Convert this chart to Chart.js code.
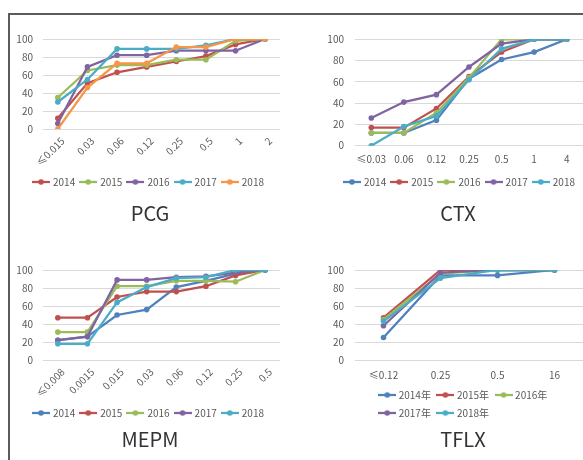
<!DOCTYPE html>
<html lang="zh">
<head>
<meta charset="UTF-8">
<title>MIC cumulative curves</title>
<script src="https://cdn.jsdelivr.net/npm/chart.js"></script>
<style>
  body { margin: 0; background: #fff; }
  #wrap { position: relative; width: 583px; height: 460px; overflow: hidden; }
  #frame { position: absolute; left: 8px; top: 13px; width: 620px; height: 480px;
           border-top: 2px solid #5b5b5b; border-left: 2px solid #5b5b5b; }
  canvas { position: absolute; }
</style>
</head>
<body>
<div id="wrap">
  <div id="frame"></div>
  <canvas id="pcg" width="291" height="230" style="left:0;top:0"></canvas>
  <canvas id="ctx" width="296" height="230" style="left:291px;top:0"></canvas>
  <canvas id="mepm" width="291" height="230" style="left:0;top:230px"></canvas>
  <canvas id="tflx" width="296" height="230" style="left:291px;top:230px"></canvas>
</div>
<script>
// PCG
const pcgCats = ['≤0.015', '0.03', '0.06', '0.12', '0.25', '0.5', '1', '2'];
const pcgNames = ['2014', '2015', '2016', '2017', '2018'];
const pcg2014 = [12, 51, 63, 69, 75, 81, 94, 100];
const pcg2015 = [35, 65, 71, 71, 77, 77, 98, 100];
const pcg2016 = [6, 69, 82, 82, 87, 87, 87, 100];
const pcg2017 = [30, 55, 89, 89, 89, 93, 100, 100];
const pcg2018 = [0, 46, 73, 73, 91, 91, 100, 100];

// CTX
const ctxCats = ['≤0.03', '0.06', '0.12', '0.25', '0.5', '1', '4'];
const ctxNames = ['2014', '2015', '2016', '2017', '2018'];
const ctx2014 = [12, 12, 24, 63, 81, 88, 100];
const ctx2015 = [17, 17, 35, 65, 88, 100, 100];
const ctx2016 = [12, 12, 31, 64, 100, 100, 100];
const ctx2017 = [26, 41, 48, 74, 96, 100, 100];
const ctx2018 = [0, 18, 28, 62, 91, 100, 100];

// MEPM
const mepmCats = ['≤0.008', '0.0015', '0.015', '0.03', '0.06', '0.12', '0.25', '0.5'];
const mepmNames = ['2014', '2015', '2016', '2017', '2018'];
const mepm2014 = [22, 26, 50, 56, 81, 88, 96, 100];
const mepm2015 = [47, 47, 70, 76, 76, 82, 94, 100];
const mepm2016 = [31, 31, 82, 82, 88, 88, 87, 100];
const mepm2017 = [22, 26, 89, 89, 92, 93, 97, 100];
const mepm2018 = [18, 18, 64, 81, 91, 92, 100, 100];

// TFLX
const tflxCats = ['≤0.12', '0.25', '0.5', '16'];
const tflxNames = ['2014年', '2015年', '2016年', '2017年', '2018年'];
const tflx2014 = [25, 94, 94, 100];
const tflx2015 = [47, 100, 100, 100];
const tflx2016 = [45, 96, 100, 100];
const tflx2017 = [38, 97, 100, 100];
const tflx2018 = [43, 91, 100, 100];

const officeA = ['#C0504D', '#9BBB59', '#8064A2', '#4BACC6', '#F79646'];
const officeB = ['#4F81BD', '#C0504D', '#9BBB59', '#8064A2', '#4BACC6'];

const FONT = '"Noto Sans CJK SC", "Noto Sans", sans-serif';
const GREY = '#595959';

// little line-with-dot swatch like Excel's legend
function legendIcon(color, w) {
  const c = document.createElement('canvas');
  c.width = w; c.height = 8;
  const g = c.getContext('2d');
  g.strokeStyle = color; g.lineWidth = 2.25;
  g.beginPath(); g.moveTo(0, 4); g.lineTo(w, 4); g.stroke();
  g.fillStyle = color;
  g.beginPath(); g.arc(w / 2, 4, 2.8, 0, Math.PI * 2); g.fill();
  return c;
}

// nudge legend/title sideways, and make wrapped legend rows start at the same x
const tweakBoxes = {
  id: 'tweakBoxes',
  afterLayout(chart, args, opts) {
    const lg = chart.legend;
    if (lg) {
      lg.left += opts.legDx; lg.right += opts.legDx;
      if (opts.alignRows && lg.lineWidths) {
        const m = Math.max(...lg.lineWidths);
        lg.lineWidths = lg.lineWidths.map(() => m);
      }
    }
    const t = chart.titleBlock;
    if (t) { t.left += opts.titleDx; t.right += opts.titleDx; }
  }
};

function makeChart(id, title, cats, names, rows, colors, cfg) {
  const font = { family: FONT, size: 10 };
  return new Chart(document.getElementById(id), {
    type: 'line',
    data: {
      labels: cats,
      datasets: rows.map((r, i) => ({
        label: names[i],
        data: r,
        borderColor: colors[i],
        backgroundColor: colors[i],
        pointBackgroundColor: colors[i],
        pointBorderWidth: 0,
        pointRadius: 2.8,
        borderWidth: 2.25,
        tension: 0,
        order: rows.length - i   // later series on top, like Excel
      }))
    },
    options: {
      responsive: false,
      animation: false,
      events: [],
      layout: { padding: { left: cfg.padL, right: cfg.padR, top: cfg.padT, bottom: 0 } },
      scales: {
        x: {
          offset: true,
          grid: { display: false, drawTicks: false },
          border: { display: false },
          ticks: { color: GREY, font, padding: cfg.xPad, labelOffset: cfg.xOff,
                   minRotation: cfg.rot, maxRotation: cfg.rot, autoSkip: false },
          afterFit(s) { s.height = cfg.xH; }
        },
        y: {
          min: 0, max: 100,
          grid: { color: '#d9d9d9', drawTicks: false },
          border: { display: false },
          ticks: { stepSize: 20, color: GREY, font, padding: cfg.yPad, autoSkip: false },
          afterFit(s) { s.width = cfg.yW; }
        }
      },
      plugins: {
        legend: {
          position: 'bottom',
          fullSize: cfg.legendFull,
          labels: {
            usePointStyle: true,
            pointStyleWidth: cfg.boxW,
            padding: cfg.legPad,
            color: GREY,
            font,
            generateLabels(chart) {
              const items = Chart.defaults.plugins.legend.labels.generateLabels(chart);
              items.sort((a, b) => a.datasetIndex - b.datasetIndex);
              items.forEach(it => { it.pointStyle = legendIcon(colors[it.datasetIndex], cfg.iconW); });
              return items;
            }
          }
        },
        title: {
          display: true,
          text: title,
          position: 'bottom',
          color: '#333333',
          font: { family: FONT, size: 20, weight: 'normal', lineHeight: 1 },
          padding: { top: cfg.tT, bottom: cfg.tB }
        },
        tooltip: { enabled: false },
        tweakBoxes: { legDx: cfg.legDx, titleDx: cfg.titleDx, alignRows: !!cfg.alignRows }
      }
    },
    plugins: [tweakBoxes]
  });
}

makeChart('pcg', 'PCG', pcgCats, pcgNames,
  [pcg2014, pcg2015, pcg2016, pcg2017, pcg2018], officeA,
  { padL: 10, padR: 11, padT: 39, yW: 33, yPad: 10, xH: 42, xPad: 6, xOff: 5, rot: 45,
    legendFull: true, boxW: 14, iconW: 18, legPad: 6, tT: 6, tB: 7, legDx: 4, titleDx: 5 });

makeChart('ctx', 'CTX', ctxCats, ctxNames,
  [ctx2014, ctx2015, ctx2016, ctx2017, ctx2018], officeB,
  { padL: 20, padR: 0, padT: 39.3, yW: 44, yPad: 11, xH: 25.3, xPad: 8, xOff: 0, rot: 0,
    legendFull: true, boxW: 14, iconW: 18, legPad: 6, tT: 6, tB: 7, legDx: 11, titleDx: 9 });

makeChart('mepm', 'MEPM', mepmCats, mepmNames,
  [mepm2014, mepm2015, mepm2016, mepm2017, mepm2018], officeB,
  { padL: 10, padR: 11, padT: 40, yW: 33, yPad: 10, xH: 42, xPad: 6, xOff: 5, rot: 45,
    legendFull: true, boxW: 14, iconW: 18, legPad: 6, tT: 1, tB: 11, legDx: 4, titleDx: 5 });

makeChart('tflx', 'TFLX', tflxCats, tflxNames,
  [tflx2014, tflx2015, tflx2016, tflx2017, tflx2018], officeB,
  { padL: 20, padR: 0, padT: 40, yW: 44, yPad: 11, xH: 22, xPad: 9, xOff: 0, rot: 0,
    legendFull: false, boxW: 13, iconW: 18, legPad: 8, tT: 1, tB: 11, legDx: -5, titleDx: 14,
    alignRows: true });
</script>
</body>
</html>
